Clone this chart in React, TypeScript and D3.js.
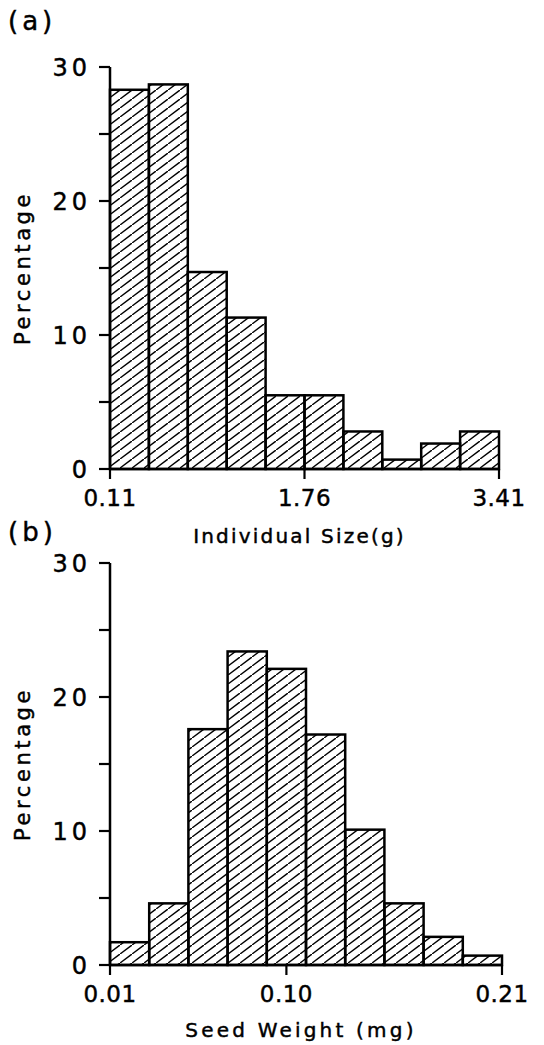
import React from "react";
import * as d3 from "d3";

// Panel (a): individual size histogram
const sizeEdges = [0.11, 0.44, 0.77, 1.1, 1.43, 1.76, 2.09, 2.42, 2.75, 3.08, 3.41];
const sizePct = [28.3, 28.7, 14.7, 11.3, 5.5, 5.5, 2.8, 0.7, 1.9, 2.8];
const sizeTicks = [0.11, 1.76, 3.41];
const sizeTickLabels = ["0.11", "1.76", "3.41"];

// Panel (b): seed weight histogram
const seedEdges = [0.01, 0.03, 0.05, 0.07, 0.09, 0.11, 0.13, 0.15, 0.17, 0.19, 0.21];
const seedPct = [1.7, 4.6, 17.6, 23.4, 22.1, 17.2, 10.1, 4.6, 2.1, 0.7];
const seedTicks = [0.01, 0.1, 0.21];
const seedTickLabels = ["0.01", "0.10", "0.21"];

const yMajor = [0, 10, 20, 30];
const yMinor = [5, 15, 25];

const FONT = "'DejaVu Sans', sans-serif";
const TXT = { fontFamily: FONT, stroke: "#000", strokeWidth: 0.45 };

type PanelProps = {
  edges: number[];
  values: number[];
  xTicks: number[];
  xTickLabels: string[];
  xLabel: string;
  panelLabel: string;
  top: number;
  bottom: number;
  left: number;
  right: number;
  panelLabelY: number;
  xLabelY: number;
  xLabelSpacing: number;
  patternId: string;
};

function Panel(p: PanelProps) {
  const x = d3.scaleLinear().domain([p.edges[0], p.edges[p.edges.length - 1]]).range([p.left, p.right]);
  const y = d3.scaleLinear().domain([0, 30]).range([p.bottom, p.top]);
  const bins = p.values.map((v, i) => ({ x0: p.edges[i], x1: p.edges[i + 1], v }));
  return (
    <g>
      {bins.map((b, i) => (
        <rect
          key={i}
          x={x(b.x0)}
          y={y(b.v)}
          width={x(b.x1) - x(b.x0)}
          height={y(0) - y(b.v)}
          fill={`url(#${p.patternId})`}
          stroke="#000"
          strokeWidth={2.5}
        />
      ))}
      <line x1={p.left} x2={p.left} y1={y(30)} y2={y(0)} stroke="#000" strokeWidth={2.5} />
      {yMajor.concat(yMinor).map((t) => (
        <line key={"yt" + t} x1={p.left - 11} x2={p.left} y1={y(t)} y2={y(t)} stroke="#000" strokeWidth={2.2} />
      ))}
      {yMajor.map((t) => (
        <text key={"yl" + t} x={p.left - 19} y={y(t) + 8.5} textAnchor="end" fontSize={24} letterSpacing={4} {...TXT}>
          {t}
        </text>
      ))}
      <line x1={p.left} x2={p.right} y1={y(0)} y2={y(0)} stroke="#000" strokeWidth={2.5} />
      {p.xTicks.map((t) => (
        <line key={"xt" + t} x1={x(t)} x2={x(t)} y1={y(0)} y2={y(0) + 10} stroke="#000" strokeWidth={2.2} />
      ))}
      {p.xTicks.map((t, i) => (
        <text key={"xl" + t} x={x(t)} y={y(0) + 37} textAnchor="middle" fontSize={23} letterSpacing={0.5} {...TXT}>
          {p.xTickLabels[i]}
        </text>
      ))}
      <text
        x={(p.left + p.right) / 2 - 5}
        y={p.xLabelY}
        textAnchor="middle"
        fontSize={20}
        letterSpacing={p.xLabelSpacing}
        {...TXT}
      >
        {p.xLabel}
      </text>
      <text
        transform={`translate(30, ${(p.top + p.bottom) / 2}) rotate(-90)`}
        textAnchor="middle"
        fontSize={21}
        letterSpacing={3.6}
        {...TXT}
      >
        Percentage
      </text>
      <text x={8} y={p.panelLabelY} fontSize={26} letterSpacing={4} {...TXT}>
        {p.panelLabel}
      </text>
    </g>
  );
}

export default function App() {
  return (
    <svg width={544} height={1045} style={{ position: "absolute", left: 0, top: 0, background: "#fff" }}>
      <defs>
        {["hatchA", "hatchB"].map((id) => (
          <pattern key={id} id={id} patternUnits="userSpaceOnUse" width={12} height={9}>
            <line x1={-12} y1={18} x2={24} y2={-9} stroke="#000" strokeWidth={1.4} />
          </pattern>
        ))}
      </defs>
      <rect x={0} y={0} width={544} height={1045} fill="#fff" />
      <Panel
        edges={sizeEdges}
        values={sizePct}
        xTicks={sizeTicks}
        xTickLabels={sizeTickLabels}
        xLabel="Individual Size(g)"
        panelLabel="(a)"
        top={67}
        bottom={469}
        left={110}
        right={499}
        panelLabelY={30}
        xLabelY={543}
        xLabelSpacing={2.2}
        patternId="hatchA"
      />
      <Panel
        edges={seedEdges}
        values={seedPct}
        xTicks={seedTicks}
        xTickLabels={seedTickLabels}
        xLabel="Seed  Weight  (mg)"
        panelLabel="(b)"
        top={563}
        bottom={965}
        left={110}
        right={502}
        panelLabelY={541}
        xLabelY={1037}
        xLabelSpacing={3.2}
        patternId="hatchB"
      />
    </svg>
  );
}
